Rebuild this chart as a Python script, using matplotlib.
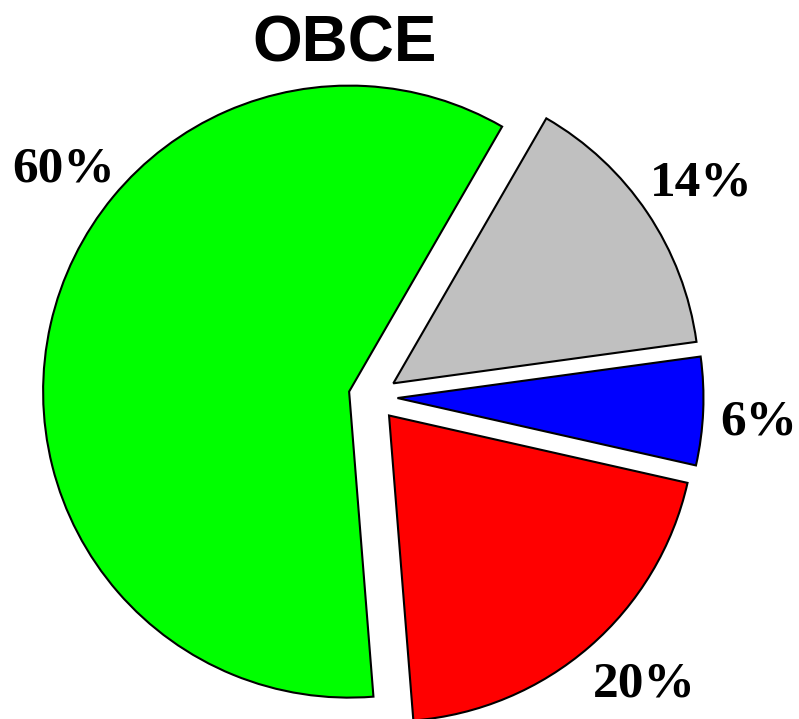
import matplotlib.pyplot as plt

# datos del grafico
etiquetas = ['60%', '20%', '6%', '14%']
valores = [59.6, 20.2, 5.7, 14.5]
colores = ['#00FF00', '#FF0000', '#0000FF', '#C0C0C0']
titulo = 'OBCE'

# posicion de cada etiqueta (coordenadas del eje, radio = 1)
pos_etiquetas = [(-1.010, 0.703), (0.886, -0.980), (1.262, -0.124), (1.073, 0.660)]

fig = plt.figure(figsize=(7.99, 7.19), dpi=100)
ax = fig.add_axes([0, 0, 1, 1])

ax.pie(valores, colors=colores, startangle=60, counterclock=True,
       explode=[0.08] * len(valores),
       wedgeprops=dict(edgecolor='black', linewidth=1.5))

for txt, (x, y) in zip(etiquetas, pos_etiquetas):
    ax.text(x, y, txt, ha='center', va='baseline', fontsize=37,
            fontweight='bold', family='Liberation Serif')

ax.set_xlim(-373 / 306, (799 - 373) / 306)
ax.set_ylim(-(719 - 397) / 306, 397 / 306)
ax.axis('off')

fig.text(345 / 799, 1 - 62 / 719, titulo, ha='center', va='baseline',
         fontsize=46, fontweight='bold', family='Liberation Sans')

fig.savefig('out.png', dpi=100)
